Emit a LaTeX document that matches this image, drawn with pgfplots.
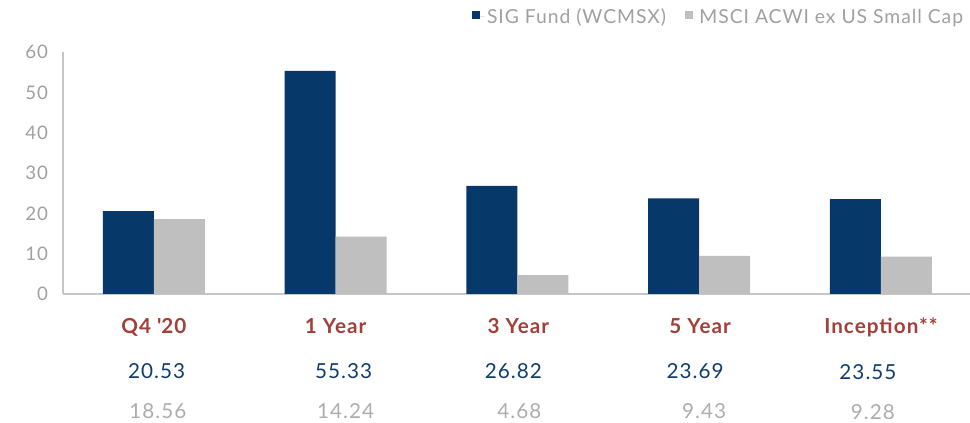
\documentclass[border=0pt]{standalone}
\usepackage{pgfplots}
\pgfplotsset{compat=1.18}
\usepackage{fontspec}
\setmainfont{Lato}[LetterSpace=5]
\definecolor{sigblue}{HTML}{07386A}
\definecolor{msgray}{HTML}{BFBFBF}
\definecolor{catred}{HTML}{A23F38}
\definecolor{valblue}{HTML}{0F3D6E}
\definecolor{valgray}{HTML}{ADADAD}
\definecolor{axgray}{HTML}{C6C6C6}
\definecolor{ticktext}{HTML}{A0A0A0}
\newcommand{\cl}[6]{\hbox{\kern#4pt\color{catred}\bfseries #1\kern-#4pt}\\[4pt]\hbox{\kern#5pt\color{valblue}#2\kern-#5pt}\\\hbox{\kern#6pt\color{valgray}#3\kern-#6pt}}
\begin{document}
\begin{tikzpicture}
\begin{axis}[
  at={(0,0)}, anchor=south west,
  scale only axis,
  width=680.25pt, height=181.5pt,
  ybar=0pt, bar width=38.25pt,
  xmin=-0.5, xmax=4.49,
  ymin=0, ymax=60,
  ytick={0,10,...,60},
  xtick={0,1,2,3,4},
  xticklabels={{\cl{Q4 \textquotesingle20}{20.53}{18.56}{0}{2}{3}},{\cl{1 Year}{55.33}{14.24}{0}{6}{7.5}},{\cl{3 Year}{26.82}{4.68}{0.75}{-3}{1.5}},{\cl{5 Year}{23.69}{9.43}{0.75}{-3}{3.75}},{\cl{Inception**}{23.55}{9.28}{0}{-9.75}{-6}}},
  xticklabel style={align=center, anchor=north, inner sep=0pt, yshift=-18pt, font=\fontsize{15.5}{30}\selectfont},
  yticklabel style={font=\fontsize{14}{16}\selectfont, color=ticktext, anchor=east, inner sep=0pt, xshift=-11pt},
  /pgf/number format/assume math mode=true,
  axis x line*=bottom, axis y line*=left,
  axis line style={axgray, line width=1.5pt},
  x axis line style={-}, y axis line style={-},
  major tick length=0pt,
  tick style={draw=none},
  legend columns=2,
  legend style={at={(1.0,1.145)}, anchor=east, draw=none, fill=none,
    font=\fontsize{14.5}{16}\selectfont, text=ticktext,
    /tikz/every even column/.append style={column sep=12pt}},
  legend image code/.code={\fill[#1] (0pt,-1.5pt) rectangle (6pt,4.5pt); \path (0pt,0pt) -- (9pt,0pt);},
]
\addplot[fill=sigblue, draw=none] coordinates {(0,20.53) (1,55.33) (2,26.82) (3,23.69) (4,23.55)};
\addplot[fill=msgray, draw=none] coordinates {(0,18.56) (1,14.24) (2,4.68) (3,9.43) (4,9.28)};
\legend{SIG Fund (WCMSX), MSCI ACWI ex US Small Cap}
\end{axis}
\pgfresetboundingbox
\path (-47.25pt,-96.75pt) rectangle (680.25pt,220.5pt);
\end{tikzpicture}
\end{document}
